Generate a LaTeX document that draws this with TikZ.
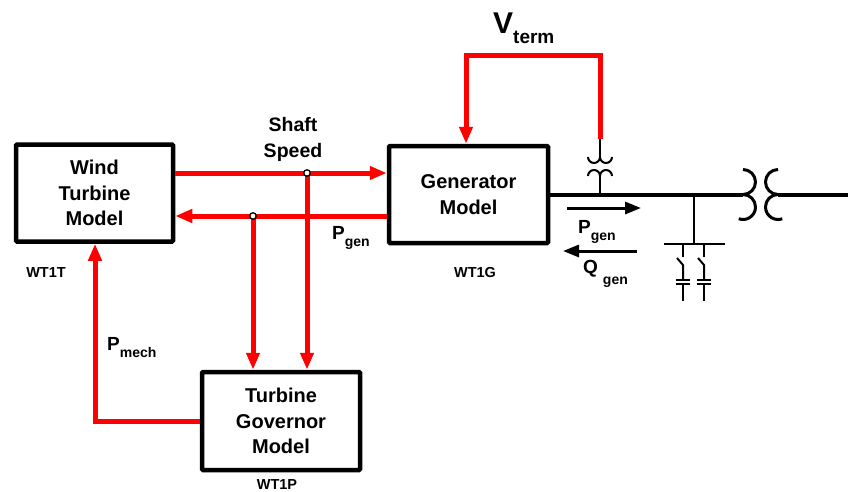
\documentclass[tikz,border=0pt]{standalone}
\usepackage{fontspec}
\setmainfont{Liberation Sans}
\usetikzlibrary{arrows.meta,calc,positioning}
\newcommand{\lowsub}[3]{#1\raisebox{#2}{\fontsize{14}{14}\selectfont #3}}

\begin{document}
\begin{tikzpicture}[x=1pt,y=-1pt]
    \tikzset{
        block/.style={draw, line width=4.5pt, rounded corners=1pt, align=center, inner sep=0pt, font=\fontsize{20}{25.5}\selectfont\bfseries},
        tag/.style={anchor=base, font=\fontsize{14.5}{14.5}\selectfont\bfseries},
        qty/.style={anchor=base west, inner sep=0pt, font=\fontsize{19}{19}\selectfont\bfseries},
        sig/.style={draw=red, line width=5pt, -{Triangle[length=17pt,width=13pt]}},
        wire/.style={draw=red, line width=5pt},
        flow/.style={draw, line width=3pt, -{Triangle[length=16pt,width=12pt]}},
        bus/.style={draw, line width=4pt},
        lead/.style={draw, line width=2pt},
        coil/.style={draw, line width=3pt},
        tap/.style={circle, draw, fill=white, line width=1.3pt, inner sep=0pt, minimum size=6.5pt},
    };
    \useasboundingbox (0,0) rectangle (848,491);

    % blocks
    \node [block, minimum width=157pt, minimum height=97pt] (wtt) at (94.5,193) {Wind\\Turbine\\Model};
    \node [block, minimum width=159pt, minimum height=97pt] (gen) at (468.5,194.5) {Generator\\Model};
    \node [block, minimum width=158pt, minimum height=98pt] (gov) at (281,421) {Turbine\\Governor\\Model};

    \node [tag] (wt1t) at (46,277) {WT1T};
    \node [tag] (wt1g) at (475,277) {WT1G};
    \node [tag] (wt1p) at (277,489) {WT1P};

    % signals
    \coordinate (spd) at (307,173);
    \coordinate (pg) at (253,216);
    \coordinate (pm) at (95,421);
    \coordinate (vl) at (466,55);
    \coordinate (vr) at (600,55);
    \coordinate (pt) at (600,139);

    \path [sig] (wtt.east |- spd)--(gen.west |- spd);
    \path [sig] (gen.west |- pg)--(wtt.east |- pg);
    \path [sig] (pg)--(pg |- gov.north);
    \path [sig] (spd)--(spd |- gov.north);
    \path [sig] (gov.west)--(pm)--(pm |- wtt.south);
    \path [sig] (pt)--(vr)--(vl)--(vl |- gen.north);
    \node [tap] at (spd) {};
    \node [tap] at (pg) {};

    \node [font=\fontsize{19.5}{26}\selectfont\bfseries, align=center] (ssl) at (293,139) {Shaft\\Speed};
    \node [qty] (pgl) at (332,239) {\lowsub{P}{-7pt}{gen}};
    \node [qty] (pml) at (107,350) {\lowsub{P}{-7pt}{mech}};
    \node [qty, font=\fontsize{30}{30}\selectfont\bfseries] (vtl) at (493,33) {V\raisebox{-10pt}{\fontsize{19}{19}\selectfont term}};

    % potential transformer
    \draw [lead] (pt)--(600,157);
    \draw [lead] (588,157) arc[start angle=180, end angle=0, radius=6] arc[start angle=180, end angle=0, radius=6];
    \draw [lead] (588,176) arc[start angle=180, end angle=360, radius=6] arc[start angle=180, end angle=360, radius=6];
    \draw [lead] (600,176)--(600,195);

    % bus and step-up transformer
    \coordinate (tl) at (743,194.5);
    \coordinate (tr) at (778,194.5);
    \draw [bus] (gen.east)--(tl);
    \draw [coil] (743,169.5) arc[start angle=270, end angle=450, radius=12.5] arc[start angle=270, end angle=470, radius=12.5];
    \draw [coil] (778,169.5) arc[start angle=270, end angle=90, radius=12.5] arc[start angle=270, end angle=70, radius=12.5];
    \draw [bus] (tr)--(848,194.5);

    % capacitor bank
    \draw [lead] (694,194.5)--(694,244);
    \draw [lead] (664,244)--(725,244);
    \foreach \x in {683,704} {
        \draw [lead] (\x,244)--(\x,257);
        \draw [lead] (\x-6,258)--(\x,265)--(\x,280);
        \draw [lead] (\x-7,280)--(\x+7,280);
        \draw [lead] (\x-7,284)--(\x+7,284);
        \draw [lead] (\x,284)--(\x,301);
    }

    % power flow
    \coordinate (pa) at (567,208);
    \coordinate (pb) at (641,208);
    \coordinate (qa) at (637,251);
    \coordinate (qb) at (563,251);
    \path [flow] (pa)--(pb);
    \path [flow] (qa)--(qb);
    \node [qty] (pgr) at (578,233) {\lowsub{P}{-7pt}{gen}};
    \node [qty] (qgr) at (583,273) {\lowsub{Q\hspace{5pt}}{-11pt}{gen}};
\end{tikzpicture}
\end{document}
